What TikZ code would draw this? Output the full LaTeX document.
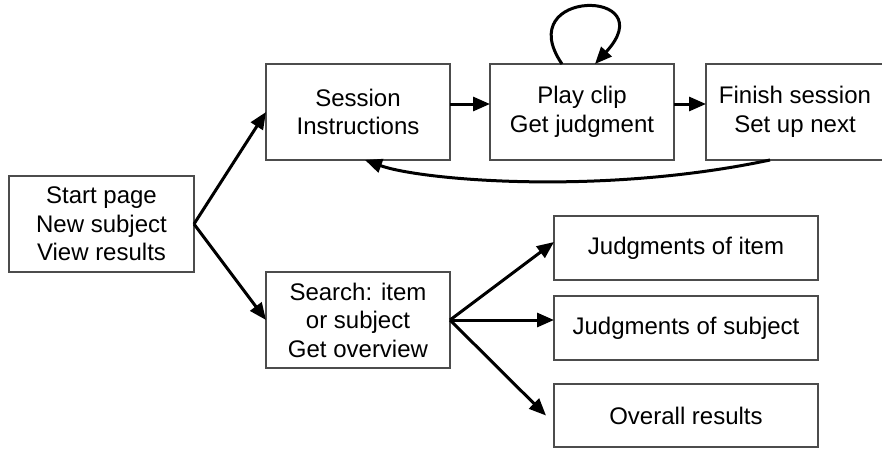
\documentclass[tikz,border=0pt]{standalone}
\usepackage{fontspec}
\setmainfont{Liberation Sans}
\usetikzlibrary{arrows.meta}
\begin{document}
\begin{tikzpicture}[x=1pt,y=-1pt,
  box/.style={draw=black!70, line width=1.3pt, align=center, inner sep=0pt, outer sep=0pt,
    font=\fontsize{24}{28.5}\selectfont},
  bigbox/.style={box, minimum width=184pt, minimum height=96pt},
  smallbox/.style={box, minimum width=264pt, minimum height=64pt},
  conn/.style={line width=3pt, -{Triangle[length=17pt,width=14pt]}}]
\useasboundingbox (0,0) rectangle (882,448);
\node[bigbox, minimum width=185pt] (start) at (101.5,224) {Start page\\New subject\\View results};
\node[bigbox] (sess) at (358,112) {Session\\Instructions};
\node[bigbox] (play) at (582,112) {Play clip\\Get judgment};
\node[bigbox, minimum width=178pt] (fin) at (795,112) {Finish session\\Set up next};
\node[bigbox] (search) at (358,320) {Search: item\\or subject\\Get overview};
\node[smallbox] (item) at (686,248) {Judgments of item};
\node[smallbox] (subj) at (686,328) {Judgments of subject};
\node[smallbox, minimum height=63pt] (overall) at (686,415.5) {Overall results};
\draw[conn] (start.east) -- (sess.west);
\draw[conn] (start.east) -- (search.west);
\draw[conn] ([yshift=8pt]sess.east) -- ([yshift=8pt]play.west);
\draw[conn] ([yshift=8pt]play.east) -- ([yshift=8pt]fin.west);
\coordinate (loopA) at ([xshift=-20pt]play.north);
\coordinate (loopB) at ([xshift=13pt]play.north);
\draw[conn] (loopA) .. controls ([xshift=-52pt,yshift=76pt]loopA) and ([xshift=70pt,yshift=76pt]loopB) .. (loopB);
\coordinate (backA) at ([xshift=-25pt]fin.south);
\coordinate (backB) at ([xshift=7pt]sess.south);
\draw[conn] (backA) .. controls ([xshift=-170pt,yshift=-36pt]backA) and ([xshift=55pt,yshift=-20pt]backB) .. (backB);
\draw[conn] (search.east) -- ([yshift=6pt]item.west);
\draw[conn] (search.east) -- (search.east -| subj.west);
\draw[conn] (search.east) -- ([xshift=-8pt]overall.west);
\end{tikzpicture}
\end{document}
